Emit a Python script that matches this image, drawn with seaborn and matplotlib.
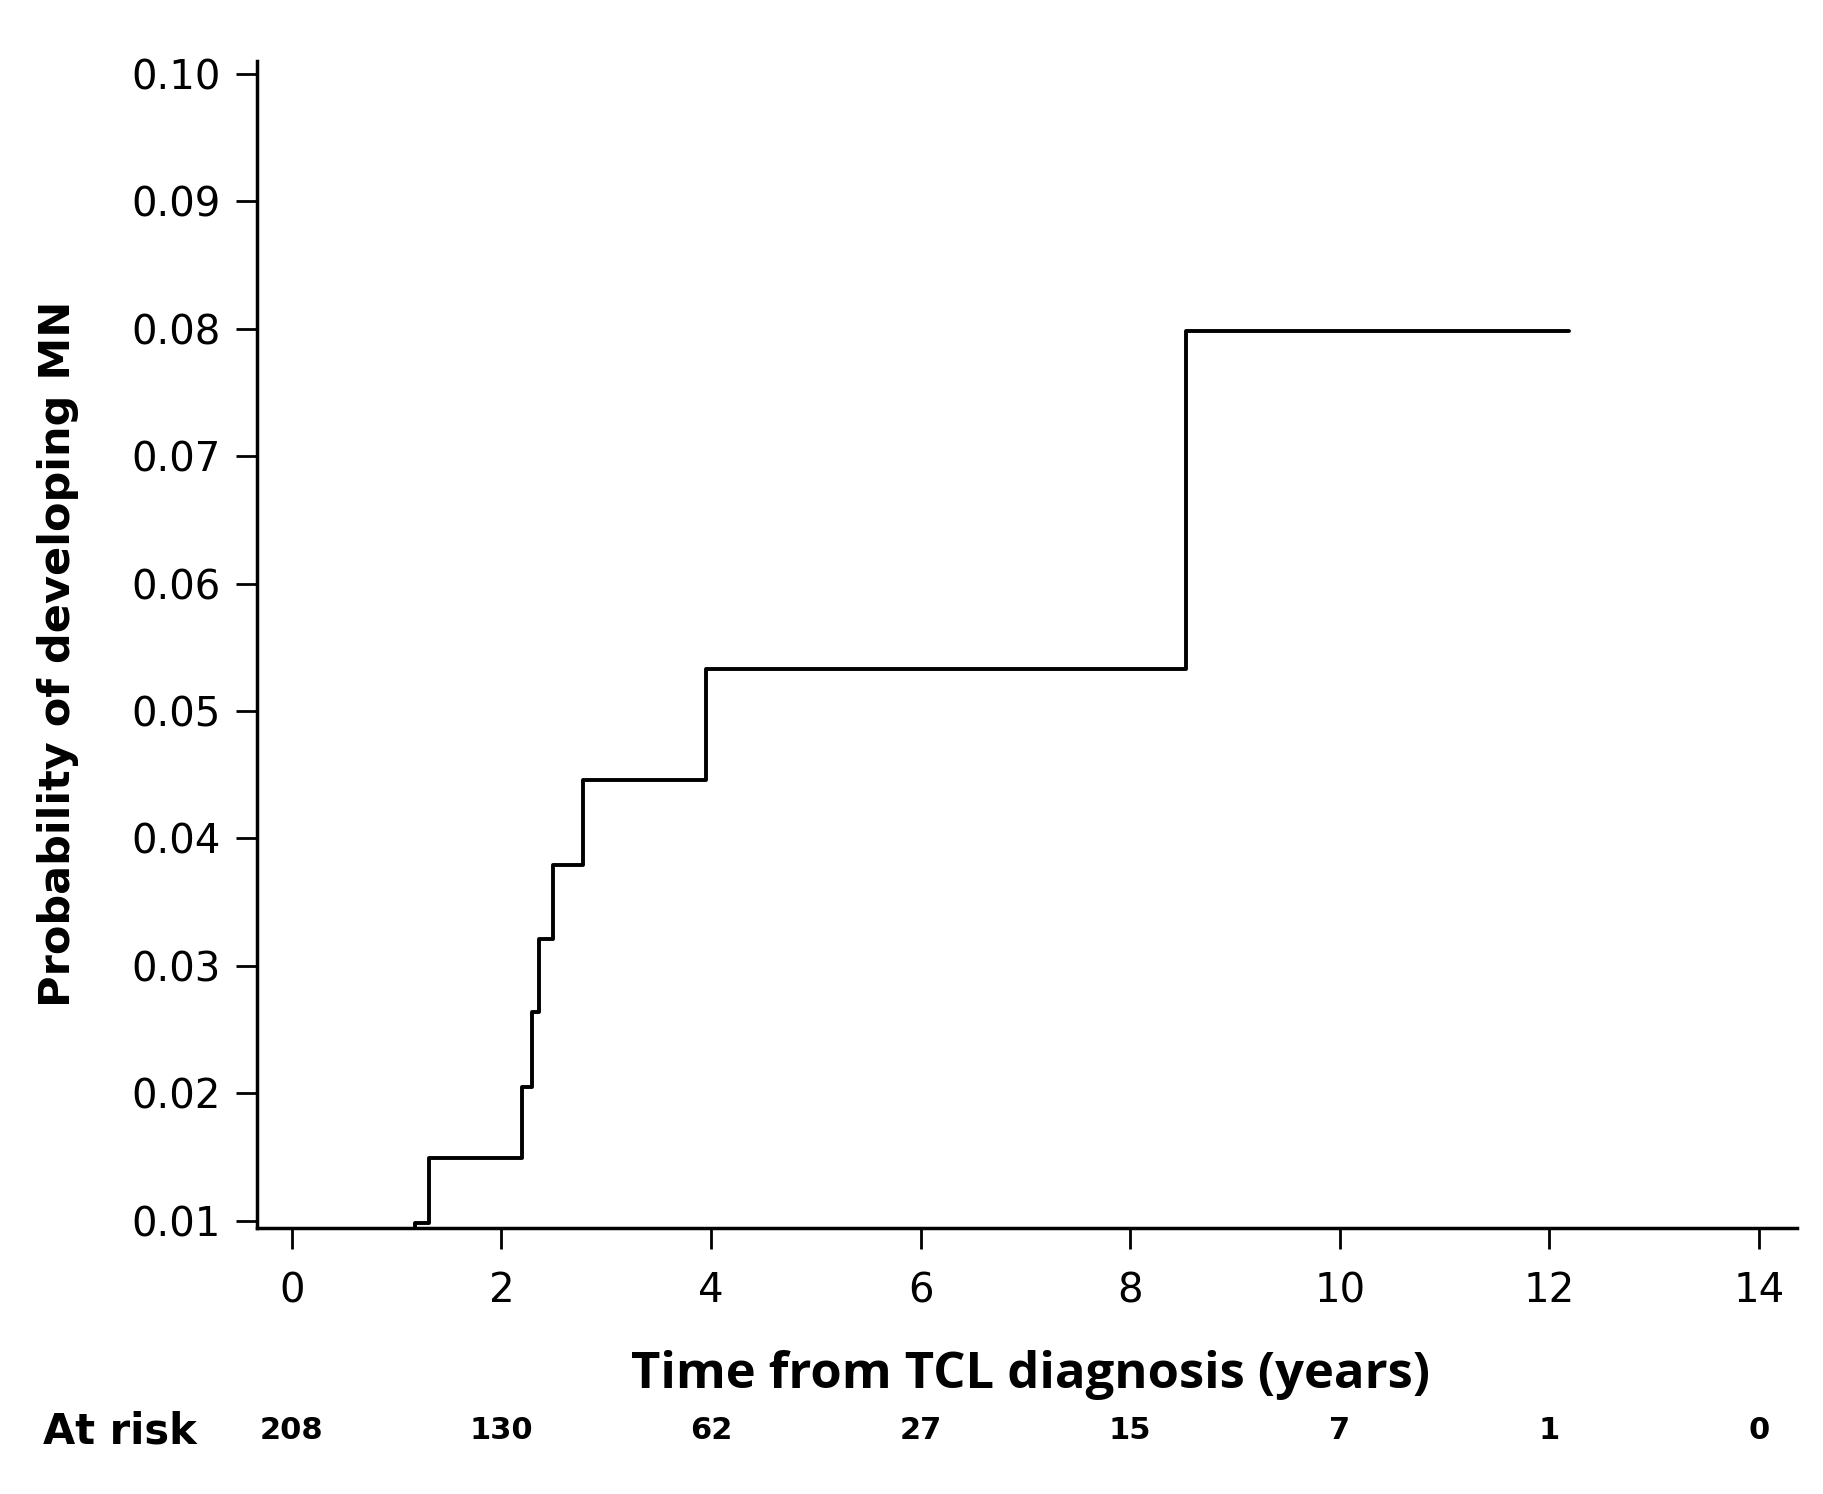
import matplotlib
matplotlib.use("Agg")
import matplotlib.pyplot as plt
import matplotlib.transforms as mtransforms
from matplotlib.ticker import FormatStrFormatter
import seaborn as sns
import pandas as pd

# Data
times = [0.0, 1.177, 1.313, 2.200, 2.296, 2.360, 2.493, 2.782, 3.953, 8.533, 12.19]
probability = [0.0, 0.0098, 0.0149, 0.0205, 0.0264, 0.0321, 0.0379, 0.0446, 0.0533, 0.0798, 0.0798]
x_ticks = [0, 2, 4, 6, 8, 10, 12, 14]
y_ticks = [0.01, 0.02, 0.03, 0.04, 0.05, 0.06, 0.07, 0.08, 0.09, 0.10]
at_risk = [208, 130, 62, 27, 15, 7, 1, 0]

sns.set_theme(style="ticks")
plt.rcParams["font.family"] = ["DejaVu Sans"]

fig = plt.figure(figsize=(18.24, 14.94), dpi=100)
ax = fig.add_axes([256.7 / 1824, 1 - 1228 / 1494, 1540 / 1824, 1167.3 / 1494])

df = pd.DataFrame({"time": times, "prob": probability})
sns.lineplot(data=df, x="time", y="prob", drawstyle="steps-post", estimator=None,
             sort=False, color="black", linewidth=2.8, ax=ax)

ax.set_xlim(-0.334, 14.36)
ax.set_ylim(0.00943, 0.10104)
ax.set_xticks(x_ticks)
ax.set_yticks(y_ticks)
ax.yaxis.set_major_formatter(FormatStrFormatter("%.2f"))

for s in ["top", "right"]:
    ax.spines[s].set_visible(False)
for s in ["left", "bottom"]:
    ax.spines[s].set_linewidth(2.5)
    ax.spines[s].set_color("black")

ax.tick_params(axis="both", direction="out", length=15, width=2.0, color="black",
               labelsize=29, labelcolor="black")
ax.tick_params(axis="x", pad=16)
ax.tick_params(axis="y", pad=11)

ax.set_xlabel("Time from TCL diagnosis (years)", fontsize=36.5, fontweight="bold",
              family=["Open Sans", "DejaVu Sans"], color="black")
ax.xaxis.set_label_coords(0.5025, -0.1371)
ax.xaxis.label.set_verticalalignment("baseline")

ax.set_ylabel("Probability of developing MN", fontsize=31, fontweight="bold",
              family=["DejaVu Sans"], color="black")
ax.yaxis.set_label_coords(-0.1212, 0.492)
ax.yaxis.label.set_verticalalignment("baseline")

trans = mtransforms.blended_transform_factory(ax.transData, ax.transAxes)
for xv, n in zip(x_ticks, at_risk):
    ax.text(xv, -0.1804, str(n), transform=trans, ha="center", va="baseline",
            fontsize=22, fontweight="bold", color="black")
fig.text(43 / 1824, 1 - 1444 / 1494, "At risk", ha="left", va="baseline",
         fontsize=30, fontweight="bold", color="black")

fig.savefig("out.png", dpi=100, facecolor="white")
